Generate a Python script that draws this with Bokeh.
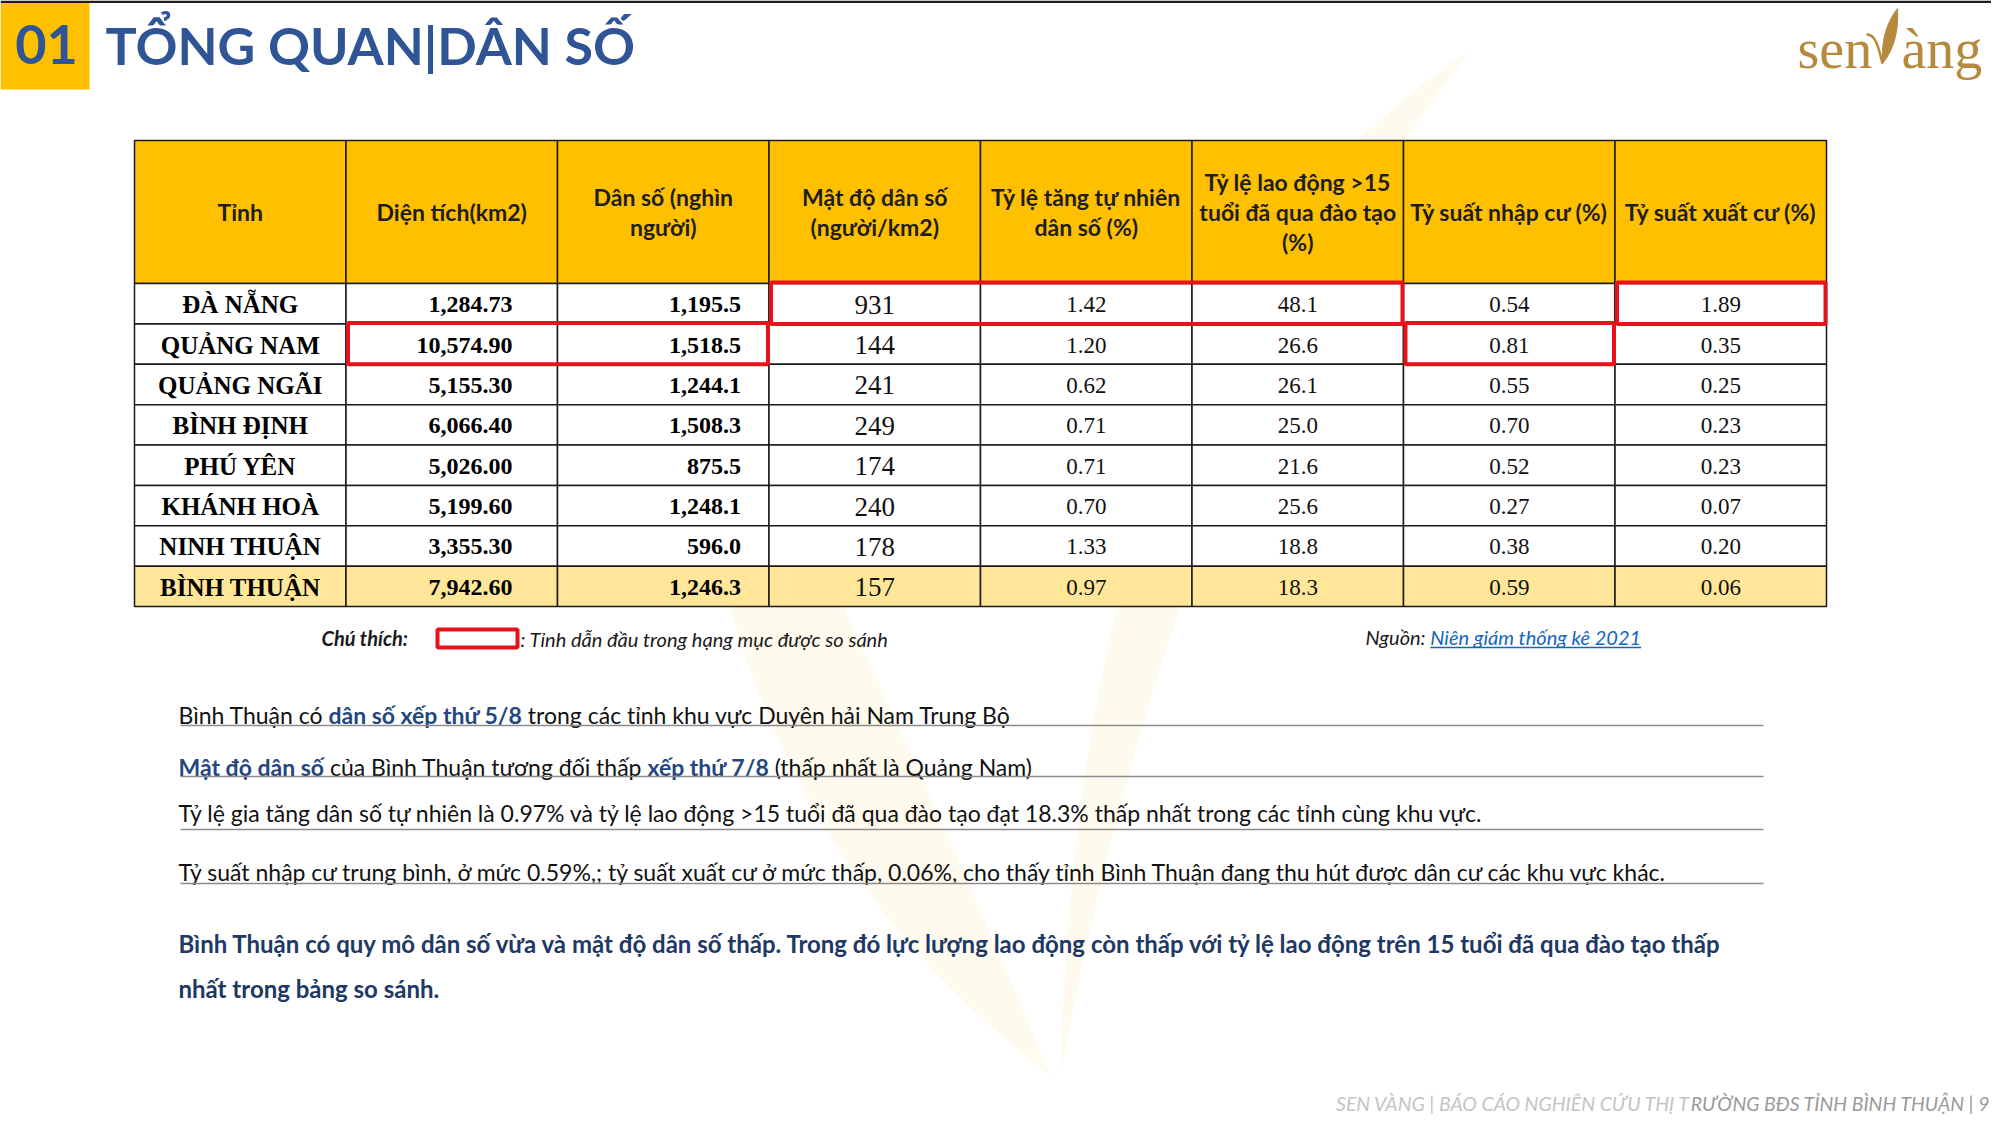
import os
import subprocess

from bokeh.core.properties import value
from bokeh.embed import file_html
from bokeh.models import ColumnDataSource, Range1d
from bokeh.plotting import figure
from bokeh.resources import INLINE

# ---------------- data ----------------
headers = [
    ["Tỉnh"],
    ["Diện tích(km2)"],
    ["Dân số (nghìn", "người)"],
    ["Mật độ dân số", "(người/km2)"],
    ["Tỷ lệ tăng tự nhiên", "dân số (%)"],
    ["Tỷ lệ lao động >15", "tuổi đã qua đào tạo", "(%)"],
    ["Tỷ suất nhập cư (%)"],
    ["Tỷ suất xuất cư (%)"],
]
provinces = ["ĐÀ NẴNG", "QUẢNG NAM", "QUẢNG NGÃI", "BÌNH ĐỊNH", "PHÚ YÊN",
             "KHÁNH HOÀ", "NINH THUẬN", "BÌNH THUẬN"]
area_km2 = [1284.73, 10574.90, 5155.30, 6066.40, 5026.00, 5199.60, 3355.30, 7942.60]
population_k = [1195.5, 1518.5, 1244.1, 1508.3, 875.5, 1248.1, 596.0, 1246.3]
density = [931, 144, 241, 249, 174, 240, 178, 157]
natural_growth = [1.42, 1.20, 0.62, 0.71, 0.71, 0.70, 1.33, 0.97]
trained_labor = [48.1, 26.6, 26.1, 25.0, 21.6, 25.6, 18.8, 18.3]
immigration = [0.54, 0.81, 0.55, 0.70, 0.52, 0.27, 0.38, 0.59]
emigration = [1.89, 0.35, 0.25, 0.23, 0.23, 0.07, 0.20, 0.06]

title_num = "01"
title_text = "TỔNG QUAN|DÂN SỐ"
legend_label = "Chú thích:"
legend_text = ": Tỉnh dẫn đầu trong hạng mục được so sánh"
source_label = "Nguồn: "
source_link = "Niên giám thống kê 2021"

# each line: list of (text, emphasised)
note_lines = [
    [("Bình Thuận có ", False), ("dân số xếp thứ 5/8", True),
     (" trong các tỉnh khu vực Duyên hải Nam Trung Bộ", False)],
    [("Mật độ dân số", True), (" của Bình Thuận tương đối thấp ", False),
     ("xếp thứ 7/8", True), (" (thấp nhất là Quảng Nam)", False)],
    [("Tỷ lệ gia tăng dân số tự nhiên là 0.97% và tỷ lệ lao động >15 tuổi đã qua đào tạo đạt 18.3% thấp nhất trong các tỉnh cùng khu vực.", False)],
    [("Tỷ suất nhập cư trung bình, ở mức 0.59%,; tỷ suất xuất cư ở mức thấp, 0.06%, cho thấy tỉnh Bình Thuận đang thu hút được dân cư các khu vực khác.", False)],
]
conclusion_lines = [
    "Bình Thuận có quy mô dân số vừa và mật độ dân số thấp. Trong đó  lực lượng lao động còn thấp  với tỷ lệ lao động trên 15 tuổi đã qua đào tạo thấp",
    "nhất trong bảng so sánh.",
]
footer_parts = ["SEN VÀNG | BÁO CÁO NGHIÊN CỨU THỊ T", "RƯỜNG BĐS TỈNH BÌNH THUẬN | 9"]
logo_parts = ["sen", "àng"]

# ---------------- font measuring ----------------
_font_cache = {}


def font_file(family, bold=False, italic=False):
    key = (family, bold, italic)
    if key in _font_cache:
        return _font_cache[key]
    path = None
    pat = family + ":weight=" + ("bold" if bold else "regular") + ":slant=" + ("italic" if italic else "roman")
    try:
        out = subprocess.run(["fc-match", "-f", "%{file}", pat], capture_output=True, text=True, timeout=10)
        if out.returncode == 0 and out.stdout.strip() and os.path.exists(out.stdout.strip()):
            path = out.stdout.strip()
    except Exception:
        path = None
    _font_cache[key] = path
    return path


def measure(text, family, size, bold=False, italic=False):
    if not text:
        return 0.0
    path = font_file(family, bold, italic)
    if path:
        try:
            from PIL import ImageFont
            f = ImageFont.truetype(path, size)
            return f.getlength(text)
        except Exception:
            pass
    return len(text) * size * (0.55 if bold else 0.5)


# ---------------- figure ----------------
W, H = 1991, 1118
p = figure(width=W, height=H, x_range=Range1d(0, W), y_range=Range1d(H, 0),
           output_backend="svg", toolbar_location=None, min_border=0)
p.axis.visible = False
p.xgrid.visible = False
p.ygrid.visible = False
p.outline_line_color = None
p.background_fill_color = "white"
p.border_fill_color = "white"

SANS = "Lato"
SERIF = "Liberation Serif"
NAVY = "#203864"
BLUE_EMPH = "#24467E"


def txt(x, y, s, size, color="#000000", font=SANS, style="normal", align="left", alpha=1.0):
    p.text(x=[x], y=[y], text=[s], text_font=value(font), text_font_size=value(f"{size}px"),
           text_font_style=style, text_color=color, text_align=align, text_baseline="middle",
           text_alpha=alpha)


def runs(x, y, segments, size, family=SANS):
    """segments: (text, bold, italic, color); svg drops leading spaces, so offset them."""
    for s, bold, italic, color in segments:
        st = ("bold " if bold else "") + ("italic" if italic else "")
        st = st.strip() or "normal"
        lead = s[:len(s) - len(s.lstrip())]
        body = s.strip()
        x0 = x + measure(lead, family, size, bold, italic)
        if body:
            txt(x0, y, body, size, color=color, font=family, style=st)
        x += measure(s, family, size, bold, italic)
    return x


# watermark (faint lotus)
def qcurve(a, c, b, n=40):
    xs, ys = [], []
    for i in range(n + 1):
        t = i / n
        xs.append((1 - t) ** 2 * a[0] + 2 * (1 - t) * t * c[0] + t ** 2 * b[0])
        ys.append((1 - t) ** 2 * a[1] + 2 * (1 - t) * t * c[1] + t ** 2 * b[1])
    return xs, ys


wm_shapes = [
    [(1470, 50), (1080, 300), (1060, 1075), (1180, 420)],
    [(690, 300), (690, 800), (1050, 1075), (860, 620)],
]
for a, c1, b, c2 in wm_shapes:
    x1, y1 = qcurve(a, c1, b)
    x2, y2 = qcurve(b, c2, a)
    p.patch(x1 + x2, y1 + y2, fill_color="#FDF4D6", fill_alpha=0.45, line_color=None)

# top rule and header bar
p.quad(left=[0], right=[W], top=[0], bottom=[2.5], fill_color="#1E1E1E", line_color=None)
p.quad(left=[0], right=[89], top=[2.5], bottom=[89], fill_color="#FFC000", line_color=None)
txt(46, 44, title_num, 54, color="#2F5597", style="bold", align="center")
txt(105, 44, title_text, 52, color="#2F5597", style="bold")

# logo
LOGO = "#B58A3C"
txt(1797, 48, logo_parts[0], 56, color=LOGO, font=SERIF)
txt(1901, 48, logo_parts[1], 56, color=LOGO, font=SERIF)
p.bezier(x0=[1866], y0=[34], x1=[1882], y1=[63], cx0=[1876], cy0=[33], cx1=[1879], cy1=[52],
         line_color=LOGO, line_width=2.5)
lx1, ly1 = qcurve((1882, 63), (1880, 30), (1897, 8))
lx2, ly2 = qcurve((1897, 8), (1899, 42), (1882, 63))
p.patch(lx1 + lx2, ly1 + ly2, fill_color=LOGO, line_color=LOGO, line_width=1)

# ---------------- table ----------------
T_LEFT = 134
COL_W = (1826 - 134) / 8
H_TOP, H_BOT = 140, 283
ROW_H = (606 - 283) / 8
ncol = len(headers)
nrow = len(provinces)

col_left = [T_LEFT + i * COL_W for i in range(ncol)]
col_right = [l + COL_W for l in col_left]
col_mid = [l + COL_W / 2 for l in col_left]
row_top = [H_BOT + j * ROW_H for j in range(nrow)]
row_bot = [t + ROW_H for t in row_top]
row_mid = [t + ROW_H / 2 for t in row_top]

p.quad(left=col_left, right=col_right, top=[H_TOP] * ncol, bottom=[H_BOT] * ncol,
       fill_color="#FFC000", line_color="#1A1A1A", line_width=1.5)
cl, cr, ct, cb, cf = [], [], [], [], []
for j in range(nrow):
    for i in range(ncol):
        cl.append(col_left[i]); cr.append(col_right[i])
        ct.append(row_top[j]); cb.append(row_bot[j])
        cf.append("#FFE699" if j == nrow - 1 else "#FFFFFF")
p.quad(left=cl, right=cr, top=ct, bottom=cb, fill_color=cf, line_color="#1A1A1A", line_width=1.5)

LH = 30
hx, hy, ht = [], [], []
for i, lines in enumerate(headers):
    n = len(lines)
    for k, s in enumerate(lines):
        hx.append(col_mid[i])
        hy.append((H_TOP + H_BOT) / 2 + (k - (n - 1) / 2) * LH)
        ht.append(s)
p.text(x=hx, y=hy, text=ht, text_font=value(SANS), text_font_size=value("23px"), text_font_style="bold",
       text_color="#1E1E1E", text_align="center", text_baseline="middle")

columns = [area_km2, population_k, density, natural_growth, trained_labor, immigration, emigration]
fmts = ["{:,.2f}", "{:,.1f}", "{:d}", "{:.2f}", "{:.1f}", "{:.2f}", "{:.2f}"]

src_names = ColumnDataSource(dict(x=[col_mid[0]] * nrow, y=[m + 1 for m in row_mid], t=provinces))
p.text(x="x", y="y", text="t", source=src_names, text_font=value(SERIF), text_font_size=value("25px"),
       text_font_style="bold", text_color="#000000", text_align="center", text_baseline="middle")

right_pad = [45, 28]
for ci in (0, 1):
    vals = [fmts[ci].format(v) for v in columns[ci]]
    src = ColumnDataSource(dict(x=[col_right[ci + 1] - right_pad[ci]] * nrow, y=[m + 1 for m in row_mid], t=vals))
    p.text(x="x", y="y", text="t", source=src, text_font=value(SERIF), text_font_size=value("24px"),
           text_font_style="bold", text_color="#000000", text_align="right", text_baseline="middle")

for ci in range(2, len(columns)):
    vals = [fmts[ci].format(v) for v in columns[ci]]
    size = "27px" if ci == 2 else "23px"
    src = ColumnDataSource(dict(x=[col_mid[ci + 1]] * nrow, y=[m + 1 for m in row_mid], t=vals))
    p.text(x="x", y="y", text="t", source=src, text_font=value(SERIF), text_font_size=value(size),
           text_color="#111111", text_align="center", text_baseline="middle")

# leader boxes: maximum of each column; adjacent columns in the same row merged
leaders = [max(range(nrow), key=lambda j: col[j]) for col in columns]
boxes = []
for ci, rj in enumerate(leaders):
    c = ci + 1
    if boxes and boxes[-1][2] == rj and boxes[-1][1] == c - 1:
        boxes[-1][1] = c
    else:
        boxes.append([c, c, rj])
RED = "#E8131A"
p.quad(left=[col_left[b[0]] + 2 for b in boxes], right=[col_right[b[1]] - 1 for b in boxes],
       top=[row_top[b[2]] - 1 for b in boxes], bottom=[row_bot[b[2]] for b in boxes],
       fill_color=None, line_color=RED, line_width=4)

# ---------------- legend / source ----------------
LS = 20
runs(321, 637, [(legend_label, True, True, "#1A1A1A")], LS)
p.quad(left=[437], right=[517], top=[629], bottom=[647], fill_color="white", line_color=RED, line_width=4)
runs(520, 638, [(legend_text, False, True, "#1A1A1A")], LS)
sx = runs(1365, 636, [(source_label, False, True, "#1A1A1A")], LS)
ex = runs(sx, 636, [(source_link, False, True, "#1565C0")], LS)
p.segment(x0=[sx], y0=[647], x1=[ex], y1=[647], line_color="#1565C0", line_width=1.3)

# ---------------- notes ----------------
NOTE_SIZE = 23
note_mid = [714, 766, 812, 871]
rule_y = [725, 776, 829, 883]
for line, ym, ry in zip(note_lines, note_mid, rule_y):
    segs = [(s, emph, False, BLUE_EMPH if emph else "#111111") for s, emph in line]
    runs(178, ym, segs, NOTE_SIZE)
    p.segment(x0=[180], y0=[ry], x1=[1763], y1=[ry], line_color="#8C8C8C", line_width=1.6)

conc_mid = [943, 988]
for s, ym in zip(conclusion_lines, conc_mid):
    txt(178, ym, s, 24, color=NAVY, style="bold")

# footer
FS = 19.5
w2 = measure(footer_parts[1], SANS, FS, italic=True)
txt(1989 - w2, 1103, footer_parts[1], FS, color="#9A9A9A", style="italic")
txt(1989 - w2, 1103, footer_parts[0], FS, color="#C4C4C4", style="italic", align="right")

open("out.html", "w").write(file_html(p, INLINE))
